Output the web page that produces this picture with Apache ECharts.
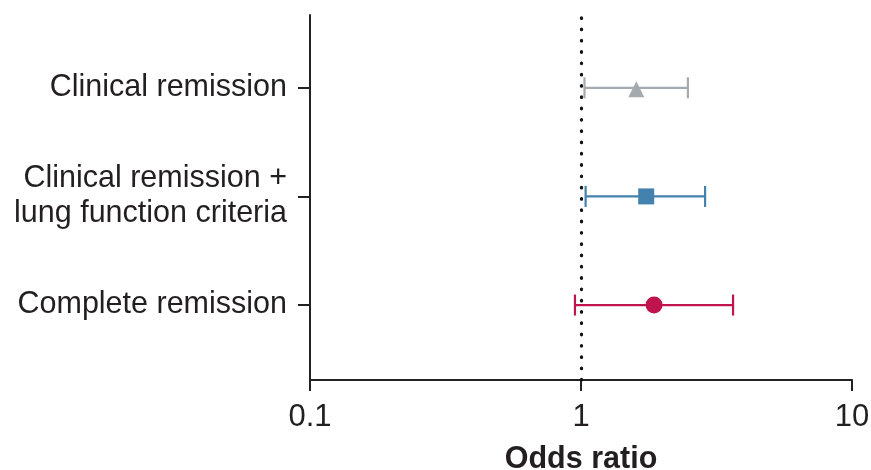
<!DOCTYPE html>
<html>
<head>
<meta charset="utf-8">
<script src="https://cdn.jsdelivr.net/npm/echarts@6/dist/echarts.min.js"></script>
<style>html,body{margin:0;padding:0;background:#fff;}#c{width:871px;height:470px;}</style>
</head>
<body>
<div id="c"></div>
<script>
// Data (bottom to top)
const categories = ['Complete remission', 'Clinical remission +\nlung function criteria', 'Clinical remission'];
const oddsRatio = [1.86, 1.74, 1.60];
const ciLow = [0.95, 1.04, 1.03];
const ciHigh = [3.64, 2.87, 2.48];
const xTicks = [0.1, 1, 10];
const refLine = 1;

const colors = ['#c0144f', '#4381ae', '#a5aaae'];
const symbols = ['circle', 'rect', 'triangle'];
const symbolSizes = [17, 16, [16, 16]];
const symbolOffsets = [[0, 0], [0, 0], [0, 1.5]];

const FONT = "'Liberation Sans', Arial, Helvetica, sans-serif";
const TXT = '#231f20';

const yPos = categories.map((_, i) => i + 1);

const chart = echarts.init(document.getElementById('c'), null, {renderer: 'canvas'});

const series = [];
categories.forEach((name, i) => {
  series.push({
    type: 'custom',
    name: name + ' CI',
    silent: true,
    data: [[ciLow[i], ciHigh[i], yPos[i]]],
    encode: {x: [0, 1], y: 2},
    renderItem: function (params, api) {
      const p1 = api.coord([api.value(0), api.value(2)]);
      const p2 = api.coord([api.value(1), api.value(2)]);
      const h = 10.5;
      const st = {stroke: colors[i], lineWidth: 2.2};
      return {
        type: 'group',
        children: [
          {type: 'line', shape: {x1: p1[0], y1: p1[1], x2: p2[0], y2: p2[1]}, style: st},
          {type: 'line', shape: {x1: p1[0], y1: p1[1] - h, x2: p1[0], y2: p1[1] + h}, style: st},
          {type: 'line', shape: {x1: p2[0], y1: p2[1] - h, x2: p2[0], y2: p2[1] + h}, style: st}
        ]
      };
    },
    z: 3
  });
  const sc = {
    type: 'scatter',
    name: name,
    data: [[oddsRatio[i], yPos[i]]],
    symbol: symbols[i],
    symbolSize: symbolSizes[i],
    symbolOffset: symbolOffsets[i],
    itemStyle: {color: colors[i], opacity: 1},
    z: 4
  };
  if (i === 0) {
    sc.markLine = {
      silent: true,
      symbol: ['none', 'none'],
      label: {show: false},
      lineStyle: {color: '#111', type: [0.6, 10.7], width: 3.2, cap: 'round', opacity: 1},
      data: [{xAxis: refLine}],
      z: 2
    };
  }
  series.push(sc);
});

const option = {
  animation: false,
  backgroundColor: '#fff',
  grid: {left: 310, right: 19, top: 15, bottom: 90, containLabel: false, outerBoundsMode: 'none'},
  xAxis: {
    type: 'log',
    logBase: 10,
    min: 0.1,
    max: 10,
    name: 'Odds ratio',
    nameLocation: 'middle',
    nameGap: 64,
    nameTextStyle: {fontFamily: FONT, fontSize: 30.5, fontWeight: 'bold', color: TXT},
    axisLine: {lineStyle: {color: '#222', width: 2}},
    axisTick: {show: true, length: 11, lineStyle: {color: '#222', width: 2}, customValues: xTicks},
    minorTick: {show: false},
    axisLabel: {
      customValues: xTicks,
      margin: 22,
      fontFamily: FONT, fontSize: 31, color: TXT,
      formatter: v => String(Math.round(v * 10) / 10)
    },
    splitLine: {show: false}
  },
  yAxis: {
    type: 'value',
    min: 0.31,
    max: 3.67,
    axisLine: {show: true, lineStyle: {color: '#222', width: 2}},
    axisTick: {show: true, length: 12, lineStyle: {color: '#222', width: 2}, customValues: yPos},
    axisLabel: {
      customValues: yPos,
      margin: 23,
      fontFamily: FONT, fontSize: 30.5, color: TXT, lineHeight: 35, align: 'right',
      formatter: v => categories[Math.round(v) - 1] || ''
    },
    splitLine: {show: false}
  },
  series: series
};
chart.setOption(option);
</script>
</body>
</html>
